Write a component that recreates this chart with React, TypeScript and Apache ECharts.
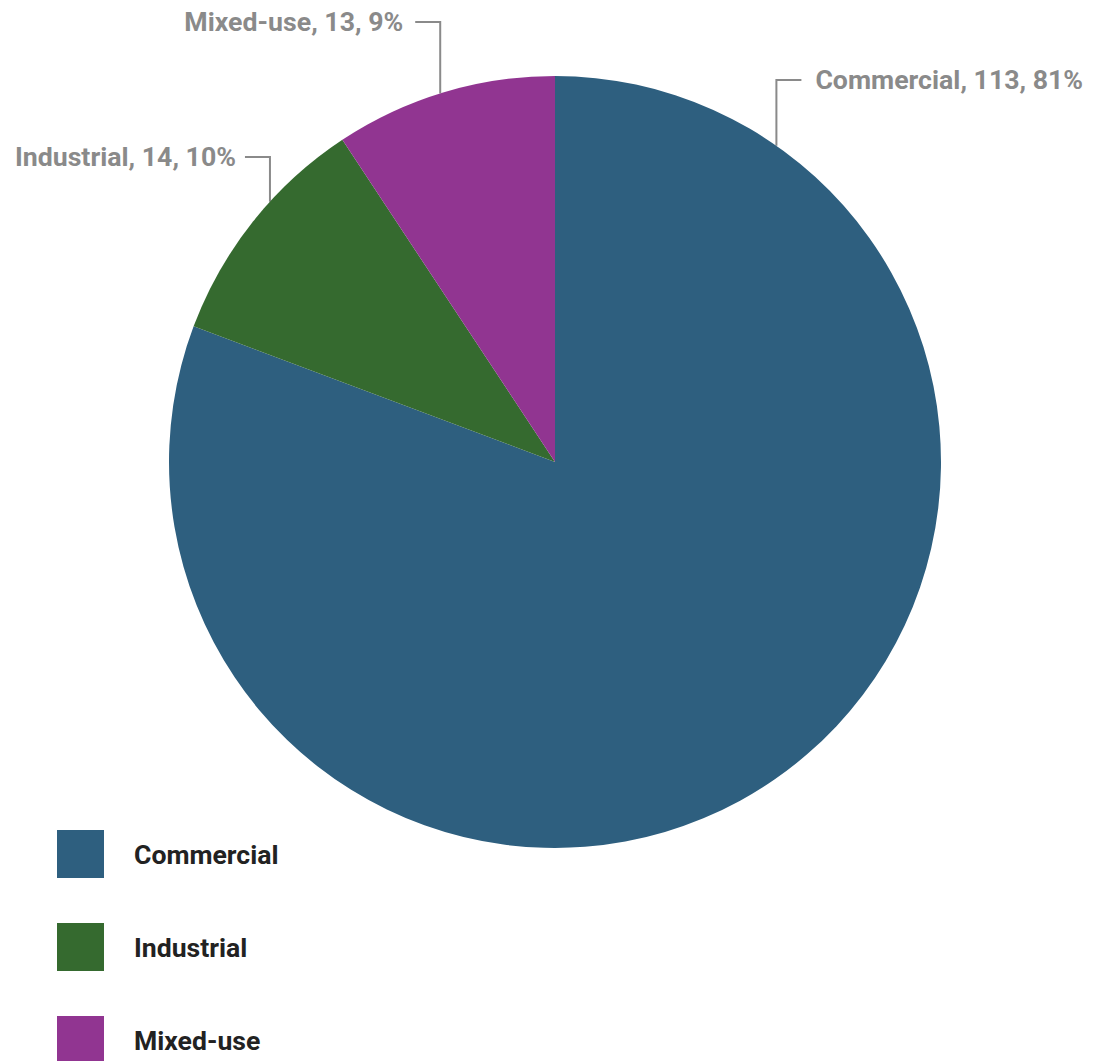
import React, { useEffect, useRef } from "react";
import * as echarts from "echarts";

const categories = ["Commercial", "Industrial", "Mixed-use"];
const values = [113, 14, 13];
const colors = ["#2E5F7F", "#356A2F", "#913591"];

// label anchor placement (layout only): angle clockwise from top, label row y, side, text gap
const anchorAngles = [35, -47.6, -17.3];
const labelRows = [80, 157, 22];
const labelSides = [1, -1, -1];
const labelGaps = [39, 34, 37];

const CX = 555;
const CY = 462;
const R = 386;

export default function App() {
  const ref = useRef<HTMLDivElement>(null);
  useEffect(() => {
    document.body.style.margin = "0";
    document.body.style.overflow = "hidden";
    const chart = echarts.init(ref.current!, null, { renderer: "svg" });
    const total = values.reduce((a, b) => a + b, 0);
    chart.setOption({
      animation: false,
      color: colors,
      legend: {
        orient: "vertical",
        left: 52,
        top: 825,
        itemWidth: 47,
        itemHeight: 48,
        itemGap: 45,
        icon: "rect",
        selectedMode: false,
        data: categories,
        textStyle: {
          fontFamily: "Roboto",
          fontWeight: "bold",
          fontSize: 26.6,
          color: "#222222",
          padding: [0, 0, 0, 25],
        },
      },
      series: [
        {
          type: "pie",
          center: [CX, CY],
          radius: [0, R],
          startAngle: 90,
          clockwise: true,
          data: categories.map((name, i) => ({ name, value: values[i] })),
          label: {
            show: true,
            position: "outside",
            alignTo: "none",
            overflow: "none",
            fontFamily: "Roboto",
            fontWeight: "bold",
            fontSize: 26.7,
            color: "#8A8A8A",
            formatter: (p: any) =>
              `${p.name}, ${p.value}, ${Math.round((p.value / total) * 100)}%`,
          },
          labelLine: {
            show: true,
            smooth: false,
            lineStyle: { color: "#8A8A8A", width: 2 },
          },
          labelLayout: (params: any) => {
            const i = params.dataIndex;
            const a = (anchorAngles[i] * Math.PI) / 180;
            const ex = CX + R * Math.sin(a);
            const ey = CY - R * Math.cos(a);
            const ly = labelRows[i];
            const side = labelSides[i];
            return {
              x: ex + side * labelGaps[i],
              y: ly,
              align: side > 0 ? "left" : "right",
              verticalAlign: "middle",
              labelLinePoints: [
                [ex, ey],
                [ex, ly],
                [ex + side * 25, ly],
              ],
            };
          },
        },
      ],
    });
    return () => chart.dispose();
  }, []);
  return (
    <div
      ref={ref}
      style={{ position: "absolute", left: 0, top: 0, width: 1097, height: 1140 }}
    />
  );
}
